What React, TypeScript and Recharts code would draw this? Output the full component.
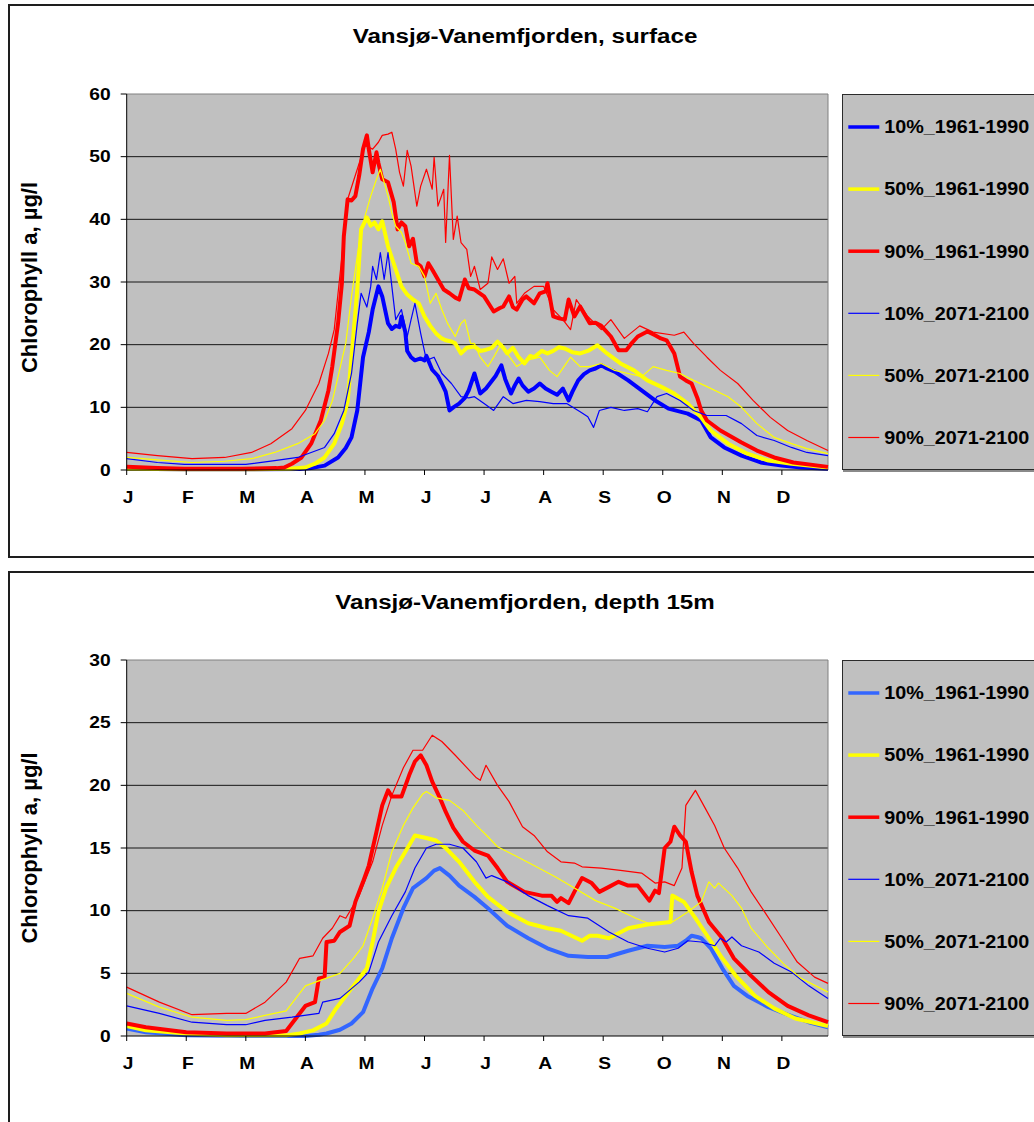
import React from "react";
import { LineChart, Line, XAxis, YAxis, CartesianGrid, ReferenceLine } from "recharts";

type Pair = [number, number];

const FONT = '"Liberation Sans", Arial, Helvetica, sans-serif';

const monthLabels = ["J", "F", "M", "A", "M", "J", "J", "A", "S", "O", "N", "D"];
const monthStarts = [0, 31, 62, 93, 124, 155, 186, 217, 248, 279, 310, 341];

const surfaceTicks = [0, 10, 20, 30, 40, 50, 60];
const surfaceGrid = [10, 20, 30, 40, 50];
const depthTicks = [0, 5, 10, 15, 20, 25, 30];
const depthGrid = [5, 10, 15, 20, 25];

const seriesNames = [
  "10%_1961-1990",
  "50%_1961-1990",
  "90%_1961-1990",
  "10%_2071-2100",
  "50%_2071-2100",
  "90%_2071-2100",
];

// surface, [day of year, chlorophyll µg/l]
const surfP10Past: Pair[] = [
  [0, 0.2], [30, 0.1], [60, 0.1], [90, 0.15], [96, 0.3], [103, 0.7], [110, 2], [114, 3.5], [117, 5.2], [120, 9.5],
  [123, 18], [126, 22], [128, 25.6], [131, 29.3], [133, 27.7], [136, 23.4], [138, 22.5], [140, 23], [142, 22.8],
  [143, 24.5], [145, 22], [146, 19], [148, 18], [150, 17.5], [153, 17.8], [155, 17.5], [156, 18.2], [159, 16],
  [162, 15], [164, 13.8], [166, 12.5], [168, 9.5], [170, 10], [173, 10.6], [176, 11.5], [178, 12.7], [181, 15.4],
  [184, 12.2], [187, 13], [189, 13.8], [192, 15], [195, 16.7], [197, 14.5], [200, 12.2], [202, 13.5], [204, 14.6],
  [206, 13.5], [209, 12.5], [212, 13], [215, 13.8], [218, 13], [221, 12.5], [224, 12], [227, 13], [230, 11.1],
  [232, 12.5], [235, 14.3], [238, 15.3], [241, 15.9], [244, 16.2], [247, 16.7], [250, 16.2], [254, 15.7],
  [261, 14.3], [268, 12.7], [275, 11.1], [282, 9.8], [292, 9], [299, 7.9], [304, 5.2], [311, 3.6], [320, 2.3],
  [330, 1.2], [341, 0.7], [351, 0.4], [365, 0.2],
];

const surfP50Past: Pair[] = [
  [0, 0.2], [30, 0.1], [60, 0.1], [85, 0.2], [93, 0.4], [98, 1], [103, 2], [108, 4.2], [112, 7.4], [115, 11],
  [117, 18], [120, 28.8], [122, 38.4], [125, 40.3], [127, 39], [129, 39.5], [131, 38.4], [133, 39.7], [136, 35.7],
  [140, 32], [143, 29.3], [146, 28], [149, 27.2], [152, 26.6], [155, 24.5], [158, 23], [161, 21.8], [164, 21],
  [166, 20.7], [169, 20.5], [171, 20.2], [174, 18.6], [177, 19.5], [181, 19.7], [184, 19], [186, 19.1], [190, 19.5],
  [193, 20.5], [196, 19.5], [198, 18.6], [201, 19.5], [204, 18], [207, 17], [210, 18.2], [212, 18], [216, 19],
  [219, 18.6], [222, 19], [225, 19.6], [228, 19.4], [232, 18.8], [236, 18.6], [240, 19], [245, 19.9], [250, 18.6],
  [257, 17], [264, 15.9], [271, 14.3], [278, 13.3], [285, 12.2], [292, 10.6], [299, 8.4], [304, 6.3], [313, 4.2],
  [323, 2.6], [334, 1.5], [346, 1], [365, 0.4],
];

const surfP90Past: Pair[] = [
  [0, 0.5], [16, 0.3], [30, 0.2], [60, 0.2], [78, 0.3], [82, 0.4], [86, 1], [91, 2], [96, 4.2], [101, 7.9],
  [105, 12.7], [107, 16.5], [110, 23.4], [112, 29.8], [113, 37.3], [115, 43.2], [117, 43], [119, 43.7], [121, 47],
  [123, 51.2], [125, 53.4], [126, 51.2], [128, 47.5], [130, 50.7], [131, 49], [133, 46.4], [136, 45.9], [139, 42.7],
  [141, 38.4], [143, 39.5], [145, 38.9], [147, 35.7], [149, 36.9], [151, 33], [153, 32.5], [155, 30.9], [157, 33],
  [159, 32], [162, 30.4], [165, 28.8], [168, 28.2], [171, 27.5], [173, 27.2], [176, 30.4], [178, 29], [181, 28.8],
  [186, 27.7], [191, 25.3], [194, 25.8], [196, 26.1], [199, 27.7], [201, 26], [203, 25.6], [206, 27.2], [208, 27.7],
  [212, 26.6], [215, 28.2], [218, 28.5], [219, 29.8], [222, 24.5], [225, 24.2], [228, 24], [230, 27.2], [233, 24.5],
  [236, 26.1], [238, 25], [241, 23.4], [244, 23.5], [247, 23], [252, 21.3], [256, 19.1], [260, 19.1], [263, 20.3],
  [266, 21.3], [271, 22.1], [275, 21.5], [278, 21], [281, 20.7], [285, 18.6], [288, 14.9], [291, 14.3], [294, 13.8],
  [297, 11.5], [299, 9.5], [302, 7.9], [309, 6.3], [320, 4.4], [328, 3.1], [337, 2], [347, 1.2], [365, 0.5],
];

const surfP10Future: Pair[] = [
  [0, 1.8], [16, 1.2], [30, 0.9], [62, 0.9], [77, 1.5], [89, 2], [96, 2.8], [103, 3.6], [108, 5.8], [113, 9.5],
  [117, 15.4], [120, 23.4], [122, 28.2], [125, 26], [127, 29.3], [128, 32.5], [130, 30.4], [132, 34.7], [134, 30.4],
  [136, 34.7], [138, 29.3], [140, 24], [143, 25.6], [146, 21.3], [148, 24], [150, 26.6], [153, 21.8], [156, 17.5],
  [160, 18], [164, 15.4], [169, 13.8], [174, 11.7], [178, 11.5], [181, 11.7], [186, 10.6], [191, 9.5], [196, 11.7],
  [201, 10.6], [208, 11.1], [215, 10.9], [222, 10.6], [229, 10.6], [236, 9.3], [240, 8.5], [243, 6.8], [246, 9.5],
  [252, 10], [259, 9.5], [266, 9.8], [271, 9.3], [276, 11.7], [281, 12.2], [288, 11.1], [295, 9.5], [302, 8.7],
  [312, 8.7], [320, 7.4], [328, 5.5], [337, 4.7], [346, 3.6], [354, 2.8], [365, 2.3],
];

const surfP50Future: Pair[] = [
  [0, 2], [16, 1.6], [34, 1.2], [51, 1.4], [65, 1.8], [77, 2.8], [89, 4.2], [98, 5.8], [103, 7.9], [107, 11],
  [110, 14.9], [114, 20.2], [117, 27.7], [121, 36.3], [124, 40.5], [127, 43.7], [130, 46.4], [132, 48], [134, 45.9],
  [136, 43.7], [138, 41], [140, 38.9], [143, 37.9], [145, 36.3], [148, 33], [152, 32.5], [155, 30.9], [158, 26.6],
  [161, 28.2], [164, 25.6], [167, 23.4], [171, 21.3], [174, 23.4], [176, 24], [179, 20.2], [181, 20.2], [184, 18],
  [188, 16.5], [191, 18], [195, 20.2], [198, 18.6], [203, 16.5], [208, 17.5], [215, 18], [220, 15.9], [224, 14.9],
  [231, 18], [236, 16.5], [241, 16.5], [247, 17], [254, 15.9], [261, 15.4], [268, 14.9], [274, 16.5], [281, 15.9],
  [288, 15.4], [295, 14.3], [302, 13.3], [313, 11.7], [320, 10], [328, 7.4], [337, 5.2], [346, 4.2], [354, 3.4],
  [365, 2.6],
];

const surfP90Future: Pair[] = [
  [0, 2.8], [16, 2.3], [34, 1.8], [51, 2], [65, 2.8], [75, 4.2], [86, 6.6], [93, 9.5], [100, 13.8], [105, 18.6],
  [108, 22.4], [112, 34], [115, 43.2], [120, 48], [124, 51.8], [128, 51.2], [131, 52.3], [133, 53.4], [136, 53.6],
  [138, 53.9], [140, 51.2], [142, 47.5], [144, 45.3], [146, 51], [148, 48.5], [151, 42.1], [153, 45.3], [156, 48],
  [159, 44.8], [160, 49.9], [162, 42.1], [165, 44.8], [166, 36.3], [168, 50.2], [170, 36.8], [172, 40.5], [174, 36.3],
  [177, 35.2], [179, 30.9], [181, 32.5], [184, 28.8], [188, 29.8], [190, 34], [193, 32], [196, 33.7], [199, 29.8],
  [202, 30.9], [203, 26.6], [207, 28.2], [212, 29.3], [217, 29.3], [222, 25.6], [227, 24], [231, 22.4], [234, 27.2],
  [240, 24.5], [247, 22.4], [252, 24], [259, 21], [267, 23], [274, 22], [285, 21.5], [290, 22], [295, 20.2],
  [302, 18], [309, 15.9], [318, 13.8], [326, 11.1], [335, 8.4], [344, 6.3], [354, 4.7], [365, 3.1],
];

// depth 15m, [day of year, chlorophyll µg/l]
const deepP10Past: Pair[] = [
  [0, 0.6], [10, 0.3], [31, 0.05], [60, 0], [93, 0], [100, 0.1], [104, 0.2], [111, 0.5], [117, 1], [123, 1.9],
  [128, 3.8], [133, 5.4], [138, 7.8], [144, 10.2], [149, 11.8], [156, 12.6], [160, 13.2], [163, 13.4], [168, 12.8],
  [173, 12], [181, 11.1], [188, 10.2], [198, 8.8], [209, 7.8], [219, 7], [230, 6.4], [240, 6.3], [250, 6.3],
  [261, 6.8], [271, 7.2], [280, 7.1], [287, 7.2], [291, 7.6], [294, 8], [297, 7.9], [299, 7.8], [304, 7], [310, 5.4],
  [316, 4], [323, 3.2], [334, 2.3], [344, 1.7], [355, 1.1], [365, 0.7],
];

const deepP50Past: Pair[] = [
  [0, 0.8], [10, 0.45], [31, 0.2], [52, 0.05], [83, 0.05], [90, 0.2], [97, 0.45], [104, 1], [109, 2.2], [114, 3.2],
  [121, 4.6], [125, 5.4], [128, 7.5], [131, 9.9], [135, 11.8], [140, 13.4], [145, 14.7], [150, 16], [156, 15.8],
  [161, 15.6], [166, 15], [173, 13.9], [181, 12.3], [188, 11.1], [198, 9.9], [209, 9], [219, 8.6], [226, 8.4],
  [237, 7.6], [241, 8], [245, 8], [251, 7.8], [261, 8.6], [271, 8.9], [283, 9.1], [284, 11.2], [290, 10.7],
  [296, 9.4], [303, 7.8], [310, 6.2], [317, 4.8], [327, 3.2], [337, 2.2], [348, 1.4], [365, 0.8],
];

const deepP90Past: Pair[] = [
  [0, 1], [10, 0.7], [31, 0.3], [52, 0.2], [72, 0.2], [83, 0.4], [88, 1.4], [93, 2.4], [98, 2.7], [100, 4.6],
  [103, 4.7], [104, 7.5], [108, 7.6], [111, 8.3], [116, 8.8], [119, 10.7], [123, 12.3], [126, 13.6], [130, 16.3],
  [133, 18.4], [136, 19.6], [138, 19.1], [143, 19.1], [147, 20.8], [150, 21.9], [153, 22.4], [156, 21.6], [159, 20.3],
  [163, 19], [166, 17.9], [170, 16.6], [175, 15.5], [181, 14.8], [188, 14.4], [193, 13.4], [198, 12.3], [207, 11.5],
  [216, 11.2], [221, 11.2], [224, 10.7], [226, 11], [230, 10.6], [233, 11.5], [237, 12.6], [242, 12.2], [246, 11.5],
  [251, 11.9], [256, 12.3], [261, 12], [266, 12], [270, 11.2], [272, 10.8], [275, 11.6], [277, 11.4], [280, 15],
  [283, 15.5], [285, 16.7], [288, 16], [291, 15.5], [294, 13.1], [297, 11.2], [303, 9.1], [310, 7.8], [316, 6.2],
  [325, 4.8], [334, 3.5], [344, 2.4], [355, 1.65], [365, 1.1],
];

const deepP10Future: Pair[] = [
  [0, 2.4], [17, 1.8], [34, 1.1], [52, 0.9], [62, 0.9], [72, 1.25], [86, 1.5], [100, 1.8], [102, 2.7], [111, 3],
  [121, 4.3], [126, 5.1], [131, 7.5], [138, 9.6], [145, 11.5], [150, 13.4], [156, 15], [161, 15.3], [168, 15.3],
  [175, 15], [182, 13.9], [187, 12.6], [190, 12.8], [198, 12.3], [209, 11.2], [219, 10.4], [230, 9.6], [240, 9.4],
  [251, 8.3], [261, 7.5], [271, 7], [280, 6.7], [287, 7], [292, 7.6], [299, 7.5], [306, 7.2], [309, 7.8], [312, 7.5],
  [315, 7.9], [320, 7.2], [329, 6.7], [337, 5.8], [346, 5.1], [355, 4], [365, 3],
];

const deepP50Future: Pair[] = [
  [0, 3.4], [17, 2.3], [34, 1.5], [52, 1.25], [62, 1.3], [72, 1.65], [83, 2], [93, 4], [100, 4.4], [111, 5],
  [118, 6.2], [123, 7.2], [128, 9.4], [133, 11.8], [138, 14.7], [144, 16.8], [149, 18.2], [154, 19.3], [156, 19.5],
  [161, 19], [168, 18.8], [175, 18], [182, 16.8], [188, 15.9], [193, 15.1], [202, 14.4], [212, 13.6], [223, 12.7],
  [233, 11.8], [244, 10.8], [254, 10.2], [265, 9.4], [273, 8.9], [284, 9.1], [292, 9.9], [299, 10.7], [303, 12.3],
  [306, 11.8], [308, 12.2], [315, 11.2], [320, 10.2], [325, 8.6], [334, 7], [343, 5.6], [351, 4.6], [365, 3.5],
];

const deepP90Future: Pair[] = [
  [0, 3.9], [17, 2.7], [34, 1.7], [52, 1.8], [62, 1.8], [72, 2.7], [83, 4.3], [90, 6.2], [97, 6.4], [102, 7.8],
  [107, 8.6], [111, 9.6], [114, 9.4], [121, 11.2], [128, 13.9], [133, 16.8], [138, 19.2], [144, 21.4], [149, 22.8],
  [154, 22.8], [159, 24], [164, 23.5], [171, 22.4], [182, 20.6], [184, 20.4], [187, 21.6], [193, 20], [199, 18.7],
  [206, 16.7], [212, 16], [219, 14.7], [226, 13.9], [233, 13.8], [237, 13.5], [247, 13.4], [258, 13.2], [268, 13],
  [275, 12.2], [280, 12.3], [285, 12], [289, 13.4], [291, 18.4], [296, 19.6], [301, 18.2], [306, 16.8], [311, 15],
  [318, 13.4], [325, 11.5], [332, 9.9], [341, 7.8], [349, 5.9], [358, 4.7], [365, 4.2],
];

type Series = { name: string; color: string; width: number; data: Pair[] };

const THICK = 4;
const THIN = 1.2;

const surfaceSeries: Series[] = [
  { name: seriesNames[0], color: "#0000FF", width: THICK, data: surfP10Past },
  { name: seriesNames[1], color: "#FFFF00", width: THICK, data: surfP50Past },
  { name: seriesNames[2], color: "#FF0000", width: THICK, data: surfP90Past },
  { name: seriesNames[3], color: "#0000FF", width: THIN, data: surfP10Future },
  { name: seriesNames[4], color: "#FFFF00", width: THIN, data: surfP50Future },
  { name: seriesNames[5], color: "#FF0000", width: THIN, data: surfP90Future },
];

const depthSeries: Series[] = [
  { name: seriesNames[0], color: "#3366FF", width: THICK, data: deepP10Past },
  { name: seriesNames[1], color: "#FFFF00", width: THICK, data: deepP50Past },
  { name: seriesNames[2], color: "#FF0000", width: THICK, data: deepP90Past },
  { name: seriesNames[3], color: "#0000FF", width: THIN, data: deepP10Future },
  { name: seriesNames[4], color: "#FFFF00", width: THIN, data: deepP50Future },
  { name: seriesNames[5], color: "#FF0000", width: THIN, data: deepP90Future },
];

const toPoints = (pairs: Pair[]) => pairs.map(([day, value]) => ({ day, value }));

// Excel-style bold text is a bit wider than Arial, so stretch it horizontally
const YTick = (props: any) => {
  const { x, y, payload } = props;
  return (
    <text
      transform={`translate(${x} ${y}) scale(1.2 1)`}
      textAnchor="end"
      dy="0.36em"
      fontFamily={FONT}
      fontWeight="bold"
      fontSize={16}
      fill="#000"
    >
      {payload.value}
    </text>
  );
};

const XTick = (props: any) => {
  const { x, y, payload } = props;
  const label = monthLabels[monthStarts.indexOf(payload.value)];
  return (
    <text
      transform={`translate(${x + 1.5} ${y}) scale(1.2 1)`}
      textAnchor="middle"
      dy="0.71em"
      fontFamily={FONT}
      fontWeight="bold"
      fontSize={16}
      fill="#000"
    >
      {label}
    </text>
  );
};

const LegendBox = ({ series }: { series: Series[] }) => (
  <div
    style={{
      position: "absolute",
      left: 841.7,
      top: 94,
      width: 240,
      height: 376,
      boxSizing: "border-box",
      background: "#C0C0C0",
      border: "1.5px solid #2b2b2b",
      boxShadow: "1px 2px 0 #8a8a8a",
    }}
  >
    <svg width={240} height={376} style={{ position: "absolute", left: -1.5, top: -1.5 }}>
      {series.map((s, i) => {
        const cy = 33 + i * 62.1;
        const sampleWidth = s.width > 2 ? 3.5 : 1.2;
        return (
          <g key={s.name}>
            <line x1={7.3} x2={38.3} y1={cy} y2={cy} stroke={s.color} strokeWidth={sampleWidth} />
            <text
              transform={`translate(43.3 ${cy}) scale(1.13 1)`}
              dy="0.36em"
              fontFamily={FONT}
              fontWeight="bold"
              fontSize={17.5}
              fill="#000"
            >
              {s.name}
            </text>
          </g>
        );
      })}
    </svg>
  </div>
);

type PanelProps = {
  top: number;
  borderTop: number;
  borderHeight: number;
  title: string;
  yLabelCenter: number;
  yMax: number;
  ticks: number[];
  grid: number[];
  series: Series[];
};

const Panel = ({ top, borderTop, borderHeight, title, yLabelCenter, yMax, ticks, grid, series }: PanelProps) => (
  <div style={{ position: "absolute", left: 0, top, width: 1034, height: borderTop + borderHeight + 4 }}>
    <div
      style={{
        position: "absolute",
        left: 8,
        top: borderTop,
        width: 1060,
        height: borderHeight,
        boxSizing: "border-box",
        border: "2px solid #1e1e1e",
        background: "#fff",
      }}
    />
    <div style={{ position: "absolute", left: 0, top: 0 }}>
      <LineChart width={840} height={520} margin={{ top: 94, right: 12, bottom: 20, left: 66.7 }}>
        <CartesianGrid
          fill="#C0C0C0"
          fillOpacity={1}
          vertical={false}
          horizontalValues={grid}
          stroke="#161616"
          strokeWidth={1}
        />
        <ReferenceLine y={yMax} stroke="#808080" strokeWidth={1} />
        <ReferenceLine x={365} stroke="#808080" strokeWidth={1} />
        <XAxis
          type="number"
          dataKey="day"
          domain={[0, 365]}
          ticks={monthStarts}
          interval={0}
          height={30}
          tickSize={5}
          tickMargin={17}
          axisLine={{ stroke: "#000", strokeWidth: 1 }}
          tickLine={{ stroke: "#000", strokeWidth: 1 }}
          tick={<XTick />}
        />
        <YAxis
          type="number"
          domain={[0, yMax]}
          ticks={ticks}
          interval={0}
          width={60}
          tickSize={6}
          tickMargin={10}
          axisLine={{ stroke: "#000", strokeWidth: 1 }}
          tickLine={{ stroke: "#000", strokeWidth: 1 }}
          tick={<YTick />}
        />
        {series.map((s) => (
          <Line
            key={s.name + s.width}
            data={toPoints(s.data)}
            dataKey="value"
            name={s.name}
            type="linear"
            stroke={s.color}
            strokeWidth={s.width}
            strokeLinejoin="round"
            dot={false}
            activeDot={false}
            isAnimationActive={false}
          />
        ))}
      </LineChart>
    </div>
    <svg width={1034} height={520} style={{ position: "absolute", left: 0, top: 0, pointerEvents: "none" }}>
      <text
        transform="translate(525 43) scale(1.15 1)"
        textAnchor="middle"
        fontFamily={FONT}
        fontWeight="bold"
        fontSize={21}
        fill="#000"
      >
        {title}
      </text>
      <text
        transform={`translate(29 ${yLabelCenter}) rotate(-90)`}
        textAnchor="middle"
        dy="0.36em"
        fontFamily={FONT}
        fontWeight="bold"
        fontSize={22}
        fill="#000"
      >
        Chlorophyll a, µg/l
      </text>
    </svg>
    <LegendBox series={series} />
  </div>
);

export default function App() {
  return (
    <div
      style={{
        position: "absolute",
        left: 0,
        top: 0,
        width: 1034,
        height: 1122,
        overflow: "hidden",
        background: "#fff",
      }}
    >
      <Panel
        top={0}
        borderTop={4}
        borderHeight={554}
        title="Vansjø-Vanemfjorden, surface"
        yLabelCenter={277.5}
        yMax={60}
        ticks={surfaceTicks}
        grid={surfaceGrid}
        series={surfaceSeries}
      />
      <Panel
        top={566}
        borderTop={5}
        borderHeight={600}
        title="Vansjø-Vanemfjorden, depth 15m"
        yLabelCenter={282}
        yMax={30}
        ticks={depthTicks}
        grid={depthGrid}
        series={depthSeries}
      />
    </div>
  );
}
